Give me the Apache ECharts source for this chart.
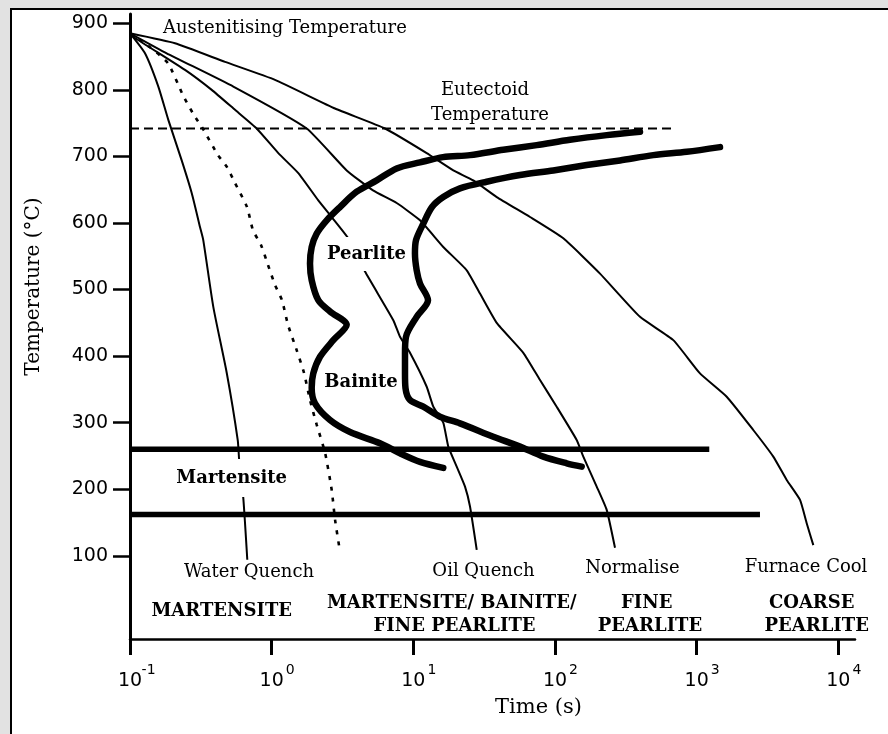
<!DOCTYPE html>
<html><head><meta charset="utf-8">
<script src="https://cdn.jsdelivr.net/npm/echarts@6/dist/echarts.min.js"></script>
<style>html,body{margin:0;padding:0;background:#e2e2e2;}#c{width:888px;height:734px;}</style>
</head><body><div id="c"></div>
<script>
// ---- data (time in s, temperature in °C) ----
const xTickValues = [0.1, 1, 10, 100, 1000, 10000];
const yTickValues = [100, 200, 300, 400, 500, 600, 700, 800, 900];

const waterQuench = [[0.1,885],[0.1276,855],[0.1585,805],[0.1864,755],[0.2317,694],[0.2726,645],[0.3119,594],[0.3292,574],[0.3873,474],[0.4816,375],[0.5759,274],[0.591,241],[0.6305,187],[0.673,94]];
const criticalCooling = [[0.1,885],[0.1384,864],[0.1854,840],[0.2366,792],[0.2829,762],[0.3223,744],[0.418,702],[0.4838,684],[0.5511,660],[0.6697,624],[0.7384,589],[0.8409,567],[0.9423,537],[1.056,507],[1.183,484],[1.304,447],[1.502,409],[1.691,375],[1.865,334],[2.079,297],[2.381,255],[2.653,199],[2.803,154],[3.002,113]];
const oilQuench = [[0.1,885],[0.1085,878],[0.2445,830],[0.3773,800],[0.5511,770],[0.784,742],[1.114,705],[1.542,675],[2.134,634],[2.653,609],[3.475,577],[4.559,527],[7.223,454],[8.054,429],[9.474,405],[12.43,354],[13.84,324],[16.27,300],[17.66,264],[20.24,234],[23.17,204],[25.13,174],[28.03,109]];
const normalise = [[0.1,885],[0.1815,855],[0.5362,805],[1.768,742],[3.386,679],[5.193,649],[7.63,630],[11.15,604],[16.27,564],[23.82,529],[29.56,494],[38.79,450],[59.76,405],[78.41,364],[102.8,324],[142.3,274],[158.5,249],[197,204],[231.8,169],[265.3,112]];
const furnaceCool = [[0.1,885],[0.2078,870],[0.4685,842],[1.056,815],[2.8,772],[6.311,742],[12.43,705],[19.15,679],[26.51,664],[38.79,639],[66.63,609],[114.5,577],[207.9,524],[398.3,459],[684.3,424],[1056,374],[1630,339],[2511,289],[3476,249],[4323,214],[5369,184],[5983,149],[6662,116]];
const transformStart = [[398.3,737],[231.8,732],[127.6,725],[74.3,717],[43.17,710],[25.13,702],[16.2,699],[11.15,691],[7.63,682],[5.514,664],[3.984,647],[3.037,624],[2.446,604],[2.079,584],[1.917,564],[1.865,539],[1.917,514],[2.134,484],[2.581,467],[3.386,447],[2.724,424],[2.194,399],[1.967,374],[1.917,352],[2.023,329],[2.581,304],[3.573,286],[5.819,269],[8.054,254],[11.15,241],[16.27,232]];
const transformFinish = [[1462,714],[850.8,707],[494.5,702],[287.7,694],[167.4,687],[97.3,679],[56.64,672],[32.96,662],[21.35,652],[16.27,639],[13.55,624],[11.76,599],[10.44,574],[10.27,554],[10.56,529],[11.15,509],[12.7,484],[10.56,459],[8.877,429],[8.735,404],[8.735,374],[8.806,352],[9.474,334],[11.76,324],[15.43,309],[21.35,299],[36.7,279],[56.64,264],[82.71,249],[121,239],[154.4,234]];
const eutectoidLine = [[0.1,742],[700,742]];
const msLine = [[0.1,260],[1228,260]];
const mfLine = [[0.1,162],[2800,162]];

// ---- chart ----
const chart = echarts.init(document.getElementById('c'));
const serif = '"DejaVu Serif"';
function thin(name, data, extra) {
  return Object.assign({ name, type: 'line', data, symbol: 'none', smooth: false, silent: true,
    lineStyle: { color: '#000', width: 2, join: 'round' } }, extra || {});
}
function txt(text, x, y, opt) {
  opt = opt || {};
  return { type: 'text', x, y, z: 50, silent: true,
    style: Object.assign({ text, fill: '#000', fontFamily: serif, fontSize: 18,
      fontWeight: opt.bold ? 'bold' : 'normal', align: opt.align || 'center', verticalAlign: 'middle' },
      opt.bg ? { backgroundColor: '#fff', padding: opt.pad } : {}) };
}
const thick = { color: '#000', width: 6.5, join: 'round', cap: 'round' };
const option = {
  animation: false,
  backgroundColor: 'transparent',
  grid: { left: 130, right: 33, top: 14, bottom: 95, containLabel: false },
  xAxis: {
    type: 'log', logBase: 10, min: 0.1, max: 13120,
    name: 'Time (s)', nameLocation: 'middle', nameGap: 58,
    nameTextStyle: { fontFamily: serif, fontSize: 21, color: '#000', padding: [0, 0, 0, 92] },
    axisLine: { onZero: false, lineStyle: { color: '#000', width: 2.5 } },
    axisTick: { show: true, inside: false, length: 16, lineStyle: { color: '#000', width: 3 }, customValues: xTickValues },
    splitLine: { show: false }, minorTick: { show: false },
    axisLabel: {
      customValues: xTickValues, margin: 24, color: '#000',
      formatter: function (v) {
        const l = Math.log10(v), e = Math.round(l);
        if (Math.abs(l - e) > 1e-6) return '';
        return '{p|}{b|10}{s|' + e + '}';
      },
      rich: {
        p: { width: 13 },
        b: { fontFamily: 'DejaVu Sans', fontSize: 19, lineHeight: 28, verticalAlign: 'bottom', color: '#000' },
        s: { fontFamily: 'DejaVu Sans', fontSize: 14, lineHeight: 15, verticalAlign: 'top', width: 13, align: 'left', color: '#000' }
      }
    }
  },
  yAxis: {
    type: 'value', min: -25, max: 914,
    name: 'Temperature (°C)', nameLocation: 'middle', nameGap: 86, nameRotate: 90,
    nameTextStyle: { fontFamily: serif, fontSize: 20, color: '#000', padding: [0, 0, 0, 80] },
    axisLine: { show: true, onZero: false, lineStyle: { color: '#000', width: 3 } },
    axisTick: { show: true, inside: false, length: 17, lineStyle: { color: '#000', width: 2.5 }, customValues: yTickValues },
    splitLine: { show: false },
    axisLabel: { customValues: yTickValues, margin: 22, color: '#000', fontFamily: 'DejaVu Sans', fontSize: 19 }
  },
  series: [
    thin('Eutectoid Temperature', eutectoidLine, { lineStyle: { color: '#000', width: 2, type: [9, 5] } }),
    thin('Water Quench', waterQuench, { smooth: 0.2 }),
    thin('Critical Cooling Rate', criticalCooling, { smooth: 0.2, lineStyle: { color: '#000', width: 2.6, type: [4, 7] } }),
    thin('Oil Quench', oilQuench, { smooth: 0.15 }),
    thin('Normalise', normalise, { smooth: 0.15 }),
    thin('Furnace Cool', furnaceCool, { smooth: 0.15 }),
    thin('Transformation Start', transformStart, { smooth: 0.3, lineStyle: thick }),
    thin('Transformation Finish', transformFinish, { smooth: 0.3, lineStyle: thick }),
    thin('Ms', msLine, { lineStyle: { color: '#000', width: 5.5 } }),
    thin('Mf', mfLine, { lineStyle: { color: '#000', width: 5.5 } })
  ],
  graphic: [
    { type: 'rect', z: -5, silent: true, shape: { x: 11, y: 9, width: 900, height: 800 },
      style: { fill: '#fff', stroke: '#000', lineWidth: 2 } },
    txt('Austenitising Temperature', 163, 28, { align: 'left' }),
    txt('Eutectoid', 485, 90),
    txt('Temperature', 490, 115),
    txt('Pearlite', 366.5, 254, { bold: true, bg: true, pad: [8, 3] }),
    txt('Bainite', 361, 382, { bold: true }),
    txt('Martensite', 231.7, 478, { bold: true, bg: true, pad: [10, 4] }),
    txt('Water Quench', 249, 572),
    txt('Oil Quench', 483.5, 571),
    txt('Normalise', 632.4, 568),
    txt('Furnace Cool', 806, 567),
    txt('MARTENSITE', 221.7, 611, { bold: true }),
    txt('MARTENSITE/ BAINITE/', 451.7, 603, { bold: true }),
    txt('FINE PEARLITE', 454.5, 626, { bold: true }),
    txt('FINE', 646.7, 603, { bold: true }),
    txt('PEARLITE', 650, 626, { bold: true }),
    txt('COARSE', 811.7, 603, { bold: true }),
    txt('PEARLITE', 816.7, 626, { bold: true })
  ]
};
chart.setOption(option);
</script></body></html>
